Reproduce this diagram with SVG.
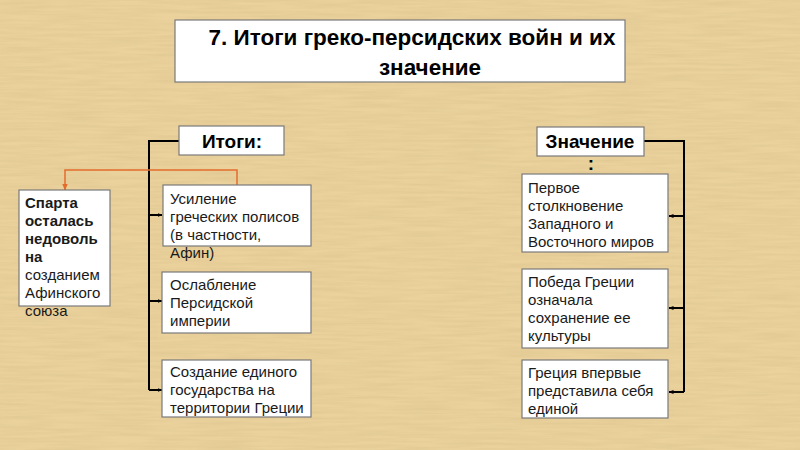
<svg xmlns="http://www.w3.org/2000/svg" width="800" height="450" viewBox="0 0 800 450">
<defs>
<filter id="paper" x="0" y="0" width="100%" height="100%">
<feTurbulence type="fractalNoise" baseFrequency="0.02 0.35" numOctaves="2" seed="3" result="n"/>
<feColorMatrix in="n" type="matrix" values="0 0 0 0 0.55  0 0 0 0 0.42  0 0 0 0 0.2  0 0 0 0.4 -0.1" result="c"/>
<feComposite in="c" in2="SourceGraphic" operator="over"/>
</filter>
<marker id="ab" viewBox="0 0 10 10" refX="9" refY="5" markerWidth="5" markerHeight="5" orient="auto" markerUnits="userSpaceOnUse">
<path d="M0,1 L10,5 L0,9 Z" fill="#000"/>
</marker>
<marker id="ao" viewBox="0 0 10 10" refX="9" refY="5" markerWidth="7" markerHeight="7" orient="auto" markerUnits="userSpaceOnUse">
<path d="M0,1 L10,5 L0,9 Z" fill="#E36C2C"/>
</marker>
<style>
.box{fill:#fff;stroke:#7a7a7a;stroke-width:1.2}
.t{font-family:"Liberation Sans",Arial,sans-serif;font-size:15px;fill:#1a1a1a}
.b{font-weight:bold}
.h{font-family:"Liberation Sans",Arial,sans-serif;font-weight:bold;fill:#000}
.ln{fill:none;stroke:#000;stroke-width:2}
.lo{fill:none;stroke:#E36C2C;stroke-width:1.5}
</style>
</defs>
<rect x="0" y="0" width="800" height="450" fill="#EBD29C" filter="url(#paper)"/>

<g id="title">
<rect class="box" x="175" y="20" width="450" height="62"/>
<text class="h" font-size="22.5" x="412" y="45" text-anchor="middle">7. Итоги греко-персидских войн и их</text>
<text class="h" font-size="22.5" x="430" y="75" text-anchor="middle">значение</text>
</g>

<g id="connectors">
<polyline class="ln" points="179,141 149,141 149,390"/>
<line class="ln" x1="149" y1="215" x2="162" y2="215" marker-end="url(#ab)"/>
<line class="ln" x1="149" y1="301" x2="162" y2="301" marker-end="url(#ab)"/>
<line class="ln" x1="149" y1="390" x2="162" y2="390" marker-end="url(#ab)"/>
<polyline class="ln" points="644,141 684,141 684,392"/>
<line class="ln" x1="684" y1="216" x2="669" y2="216" marker-end="url(#ab)"/>
<line class="ln" x1="684" y1="308" x2="669" y2="308" marker-end="url(#ab)"/>
<line class="ln" x1="684" y1="392" x2="669" y2="392" marker-end="url(#ab)"/>
<polyline class="lo" points="237,185 237,170 65,170 65,190" marker-end="url(#ao)"/>
</g>

<g id="itogi">
<rect class="box" x="179" y="126" width="105" height="29"/>
<text class="h" font-size="19" x="232" y="148" text-anchor="middle">Итоги:</text>
</g>

<g id="znachenie">
<rect class="box" x="537" y="127" width="107" height="29"/>
<text class="h" font-size="19" x="590" y="148" text-anchor="middle">Значение</text>
<text class="h" font-size="19" x="591" y="170" text-anchor="middle">:</text>
</g>

<g id="sparta">
<rect class="box" x="19" y="190" width="91" height="116"/>
<text class="t b" x="25" y="208">Спарта</text>
<text class="t b" x="25" y="226">осталась</text>
<text class="t b" x="25" y="244">недоволь</text>
<text class="t b" x="25" y="262">на</text>
<text class="t" x="25" y="280">созданием</text>
<text class="t" x="25" y="298">Афинского</text>
<text class="t" x="25" y="316">союза</text>
</g>

<g id="usilenie">
<rect class="box" x="163" y="185" width="148" height="61"/>
<text class="t" x="170" y="204">Усиление</text>
<text class="t" x="170" y="222">греческих полисов</text>
<text class="t" x="170" y="240">(в частности,</text>
<text class="t" x="170" y="258">Афин)</text>
</g>

<g id="oslablenie">
<rect class="box" x="162" y="272" width="149" height="61"/>
<text class="t" x="170" y="290">Ослабление</text>
<text class="t" x="170" y="308">Персидской</text>
<text class="t" x="170" y="326">империи</text>
</g>

<g id="sozdanie">
<rect class="box" x="162" y="360" width="149" height="57"/>
<text class="t" x="170" y="377">Создание единого</text>
<text class="t" x="170" y="395">государства на</text>
<text class="t" x="170" y="413">территории Греции</text>
</g>

<g id="pervoe">
<rect class="box" x="522" y="174" width="146" height="78"/>
<text class="t" x="528" y="193">Первое</text>
<text class="t" x="528" y="211">столкновение</text>
<text class="t" x="528" y="229">Западного и</text>
<text class="t" x="528" y="247">Восточного миров</text>
</g>

<g id="pobeda">
<rect class="box" x="522" y="269" width="146" height="79"/>
<text class="t" x="528" y="287">Победа Греции</text>
<text class="t" x="528" y="305">означала</text>
<text class="t" x="528" y="323">сохранение ее</text>
<text class="t" x="528" y="341">культуры</text>
</g>

<g id="gretsiya">
<rect class="box" x="522" y="360" width="146" height="58"/>
<text class="t" x="528" y="378">Греция впервые</text>
<text class="t" x="528" y="396">представила себя</text>
<text class="t" x="528" y="414">единой</text>
</g>
</svg>
